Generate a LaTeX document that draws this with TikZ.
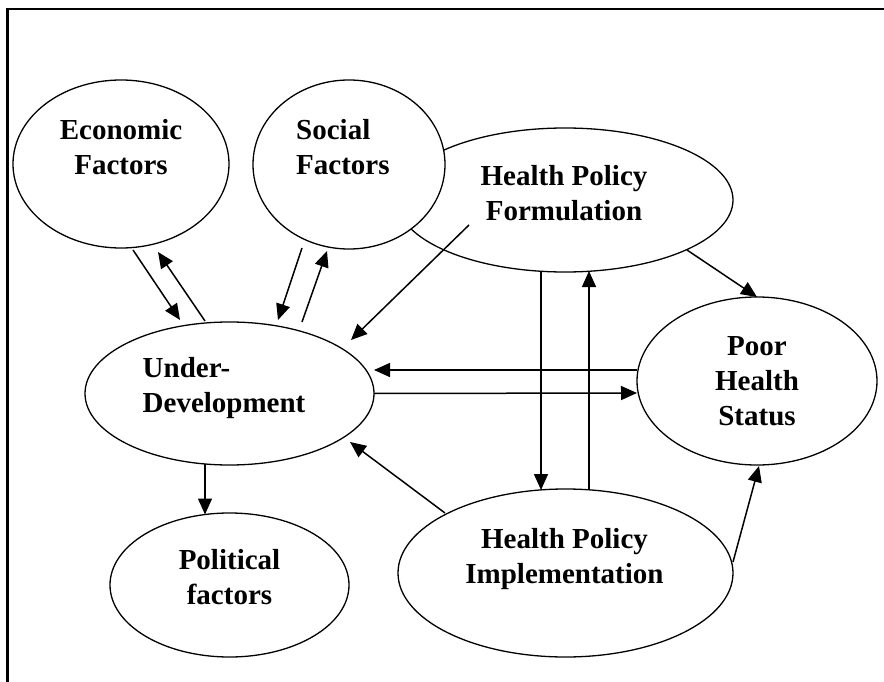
\documentclass[tikz,border=0pt]{standalone}
\usepackage{fontspec}
\setmainfont{Liberation Serif}
\usetikzlibrary{shapes.geometric,arrows.meta,calc}
\begin{document}
\begin{tikzpicture}[x=1pt,y=-1pt,
  oval/.style={draw,ellipse,fill=white,line width=1.3pt,inner sep=0pt,outer sep=0pt},
  lbl/.style={font=\fontsize{29}{35}\selectfont\bfseries,inner sep=0pt,anchor=base},
  conn/.style={line width=1.5pt,-{Triangle[length=16pt,width=14pt]}},
  framestyle/.style={line width=2.3pt}]
\useasboundingbox (0,0) rectangle (884,682);
\draw[framestyle] (7.5,682) -- (7.5,9) -- (884,9);

% ovals
\node[oval,minimum width=336pt,minimum height=144pt] (hpf) at (565,200) {};
\node[oval,minimum width=216pt,minimum height=168pt] (econ) at (121,164) {};
\node[oval,minimum width=192pt,minimum height=169pt] (social) at (349,164.5) {};
\node[oval,minimum width=240pt,minimum height=168pt] (phs) at (757,381) {};
\node[oval,minimum width=289pt,minimum height=143pt] (ud) at (229.5,393.5) {};
\node[oval,minimum width=239pt,minimum height=144pt] (pol) at (229.5,585) {};
\node[oval,minimum width=335pt,minimum height=168pt] (hpi) at (565.5,573) {};

% labels (base anchor = baseline of the last line)
\node[lbl,align=center] (econT) at (121,175) {Economic\\Factors};
\node[lbl,anchor=base west,align=left] (socialT) at (296,175) {Social\\Factors};
\node[lbl,align=center] (hpfT) at (564,220) {Health Policy\\Formulation};
\node[lbl,align=center] (phsT) at (757,425) {Poor\\Health\\Status};
\node[lbl,anchor=base west,align=left] (udT) at (142.5,412) {Under-\\Development};
\node[lbl,align=center] (polT) at (229.5,604) {Political\\factors};
\node[lbl,align=center] (hpiT) at (564.5,583) {Health Policy\\Implementation};

% connectors
\draw[conn] ($(econ)+(12,86)$) -- ($(ud)+(-49.5,-73.5)$);
\draw[conn] ($(ud)+(-24.5,-72.5)$) -- ($(econ)+(37,88)$);
\draw[conn] ($(social)+(-47,83.5)$) -- ($(ud)+(48.5,-73.5)$);
\draw[conn] ($(ud)+(72.5,-71.5)$) -- ($(social)+(-22,86.5)$);
\draw[conn] ($(hpf)+(-96,25)$) -- ($(ud)+(121.5,-53.5)$);
\draw[conn] ($(phs)+(-120,-11)$) -- ($(ud)+(144.5,-23.5)$);
\draw[conn] ($(ud)+(144.5,0)$) -- ($(phs)+(-120,12)$);
\draw[conn] ($(hpf)+(-24,71)$) -- ($(hpi)+(-24.5,-83)$);
\draw[conn] ($(hpi)+(23.5,-83)$) -- ($(hpf)+(24,71)$);
\draw[conn] ($(ud)+(-24.5,70.5)$) -- ($(pol)+(-24.5,-70.5)$);
\draw[conn] ($(hpi)+(-120.5,-60)$) -- ($(ud)+(120.5,48.5)$);
\draw[conn] ($(hpi)+(167.5,-11)$) -- ($(phs)+(2,85)$);
\draw[conn] ($(hpf)+(122,50)$) -- ($(phs)+(0,-84)$);
\end{tikzpicture}
\end{document}
